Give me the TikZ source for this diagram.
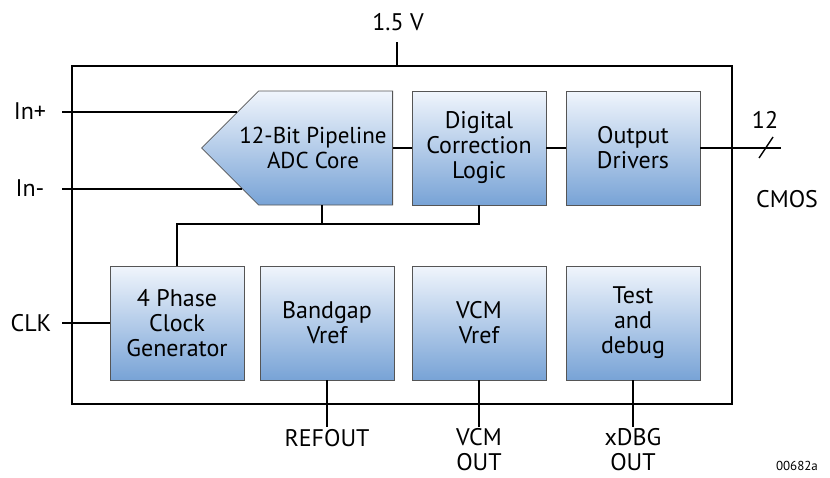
\documentclass[tikz,border=0pt]{standalone}
\usepackage{fontspec}
\setmainfont{PT Sans}
\usepackage{tikz}
\usetikzlibrary{shapes,positioning,calc}
\definecolor{adblue}{RGB}{120,163,214}
\definecolor{admid}{RGB}{196,218,241}
\definecolor{adlight}{RGB}{240,245,252}
\definecolor{adgray}{RGB}{85,85,85}
\tikzstyle{wire} = [line width=1.8pt, color=black]
\tikzstyle{frame} = [rectangle, draw=black, line width=1.8pt, minimum width=660pt, minimum height=338pt, inner sep=0pt]
\tikzstyle{block} = [rectangle, minimum width=134pt, minimum height=114pt, align=center, draw=adgray, line width=0.8pt, top color=adlight, middle color=admid, bottom color=adblue, inner sep=0pt, font=\fontsize{24}{25}\selectfont]
\tikzstyle{pin} = [align=center, font=\fontsize{24}{27}\selectfont]

\begin{document}
\begin{tikzpicture}[x=1pt,y=-1pt]
\useasboundingbox (0,0) rectangle (830,477);
% Chip outline
\node[frame] (chip) at (402,235) {};

% Top row
\node[block, shape=signal, signal to=west, signal from=nowhere, signal pointer angle=90, minimum width=191pt, anchor=east] (adc) at (393,148) {};
\node[align=center, font=\fontsize{23}{25}\selectfont] (adctext) at (313,148) {12-Bit Pipeline\\ADC Core};
\node[block] (dcl) at (479,148) {Digital\\Correction\\Logic};
\node[block] (drv) at (633,148) {Output\\Drivers};

% Bottom row
\node[block] (clk) at (177,323) {4 Phase\\Clock\\Generator};
\node[block] (bg) at (327,323) {Bandgap\\Vref};
\node[block] (vcm) at (479,323) {VCM\\Vref};
\node[block] (tst) at (633,323) {Test\\and\\debug};

% Pins
\coordinate (vddpin) at (397,42);
\coordinate (inppin) at (62,112);
\coordinate (innpin) at (62,189);
\coordinate (clkpin) at (62,323);
\coordinate (outpin) at (781,148);
\coordinate (refpin) at (327,427);
\coordinate (vcmpin) at (479,427);
\coordinate (dbgpin) at (633,427);
\coordinate (adcclk) at (322,205);
\coordinate (bus) at (479,224);

\node[pin] (vdd) at (398,22) {1.5 V};
\node[pin] (inp) at (30,111) {In+};
\node[pin] (inn) at (30,188) {In-};
\node[pin] (clkin) at (31,323) {CLK};
\node[pin] (nbits) at (765,120) {12};
\node[pin] (cmos) at (787,199) {CMOS};
\node[pin, inner sep=0pt, below=2pt of refpin] (refout) {REFOUT};
\node[pin, inner sep=0pt, below=1pt of vcmpin, font=\fontsize{24}{25}\selectfont] (vcmout) {VCM\\OUT};
\node[pin, inner sep=0pt, below=1pt of dbgpin, font=\fontsize{24}{25}\selectfont] (dbgout) {xDBG\\OUT};
\node[font=\fontsize{13}{15}\selectfont] (code) at (797,466) {00682a};

% Wires
\draw[wire] (vddpin) -- (vddpin |- chip.north);
\draw[wire] (inppin) -- ($(adc.west)+(36,-36)$);
\draw[wire] (innpin) -- ($(adc.west)+(41,41)$);
\draw[wire] (clkpin) -- (clk.west);
\draw[wire] (adc.east) -- (dcl.west);
\draw[wire] (dcl.east) -- (drv.west);
\draw[wire] (drv.east) -- (outpin);
\draw[line width=1.4pt] (759,158) -- (773,137);
\draw[wire] (clk.north) |- (bus) -- (dcl.south);
\draw[wire] (adcclk) -- (adcclk |- bus);
\draw[wire] (bg.south) -- (refpin);
\draw[wire] (vcm.south) -- (vcmpin);
\draw[wire] (tst.south) -- (dbgpin);
\end{tikzpicture}
\end{document}
